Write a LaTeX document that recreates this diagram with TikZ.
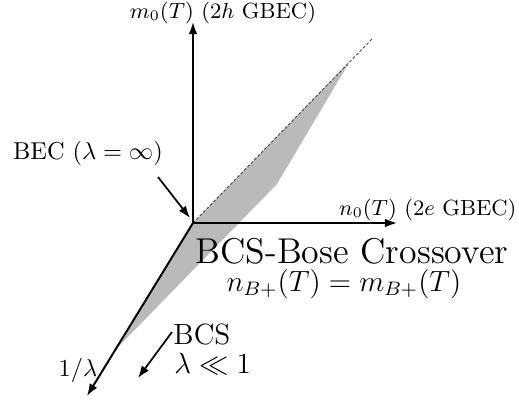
\documentclass[tikz,border=0pt]{standalone}
\usetikzlibrary{arrows.meta}
\begin{document}
\begin{tikzpicture}[x=0.41pt,y=-0.41pt,
  axis/.style={line width=0.8pt,-{Latex[length=5pt,width=3.6pt]}},
  pointer/.style={line width=0.7pt,-{Latex[length=5pt,width=3.6pt]}},
  lbl/.style={inner sep=0pt},
  axlbl/.style={inner sep=0pt,font=\fontsize{9}{11}\selectfont}]
\useasboundingbox (0,0) rectangle (519,402);
% key points
\coordinate (O) at (193,223);
\coordinate (ytip) at (193,22);
\coordinate (xtip) at (397,223);
\coordinate (ztip) at (87,396);
\coordinate (dend) at (373,38);
\coordinate (g1) at (350,61);
\coordinate (g2) at (277,184);
\coordinate (g3) at (118,347);
% shaded sheet
\fill[black!27] (O) -- (g1) -- (g2) -- (g3) -- cycle;
\draw[dashed,dash pattern=on 1.2pt off 0.8pt,line width=0.35pt,black!75] (O) -- (dend);
% axes
\draw[axis] (O) -- (ytip);
\draw[axis] (O) -- (xtip);
\draw[axis] (O) -- (ztip);
% labels
\node[axlbl] (mlab) at (223,13) {$m_0(T)$ ($2h$ GBEC)};
\node[axlbl,anchor=east] (nlab) at (517,210) {$n_0(T)$ ($2e$ GBEC)};
\node[lbl] (bec) at (88,153) {BEC ($\lambda=\infty$)};
\node[lbl,anchor=base] (cross) at (352,263) {\fontsize{14.7}{17}\selectfont BCS-Bose Crossover};
\node[lbl,anchor=base] (eq) at (344,291) {\large $n_{B+}(T)=m_{B+}(T)$};
\node[lbl,anchor=base west] (bcs) at (173,344) {\large BCS};
\node[lbl,anchor=base west] (lam) at (174,373) {\large $\lambda\ll1$};
\node[lbl] (inv) at (78,370) {$1/\lambda$};
% pointers
\coordinate (p1s) at (158,177);
\coordinate (p1e) at (190,218);
\coordinate (p2s) at (172,332);
\coordinate (p2e) at (138,378);
\draw[pointer] (p1s) -- (p1e);
\draw[pointer] (p2s) -- (p2e);
\end{tikzpicture}
\end{document}
